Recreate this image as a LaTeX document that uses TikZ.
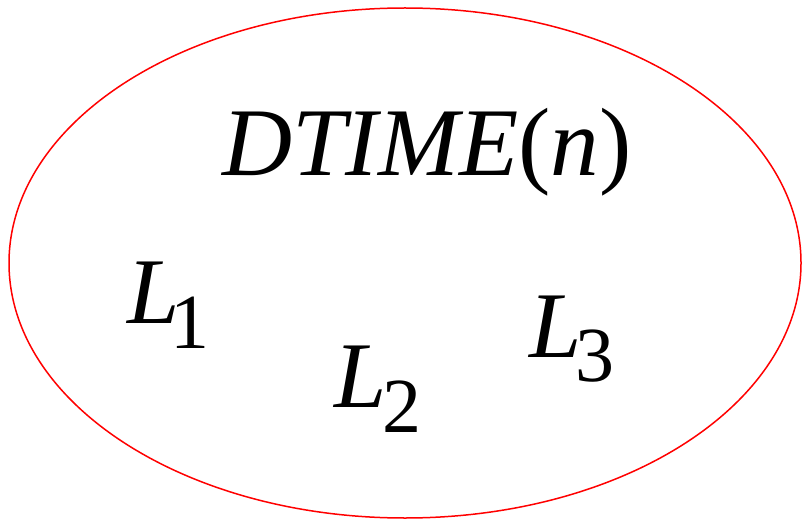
\documentclass[tikz,border=0pt]{standalone}
\usepackage{fontspec}
\setmainfont{Liberation Serif}
\tikzset{
  txt/.style={inner sep=0pt, outer sep=0pt, anchor=base west},
  bigit/.style={txt, font=\fontsize{97}{100}\selectfont\itshape},
  ell/.style={txt, font=\fontsize{94}{100}\selectfont\itshape},
  sub/.style={txt, font=\fontsize{78}{90}\selectfont},
}
\begin{document}
\begin{tikzpicture}[x=1pt,y=1pt]
\useasboundingbox (0,0) rectangle (802,520);
\draw[red, line width=1.5pt] (405,257) ellipse [x radius=396, y radius=255];
\node[bigit] (title) at (222,344) {DTIME\upshape(\itshape n\upshape)};
\node[ell] (l1) at (127,197) {L};
\node[sub] (s1) at (170,172) {1};
\node[ell] (l2) at (334,113) {L};
\node[sub] (s2) at (382,88) {2};
\node[ell] (l3) at (529,163) {L};
\node[sub] (s3) at (575,139) {3};
\end{tikzpicture}
\end{document}
